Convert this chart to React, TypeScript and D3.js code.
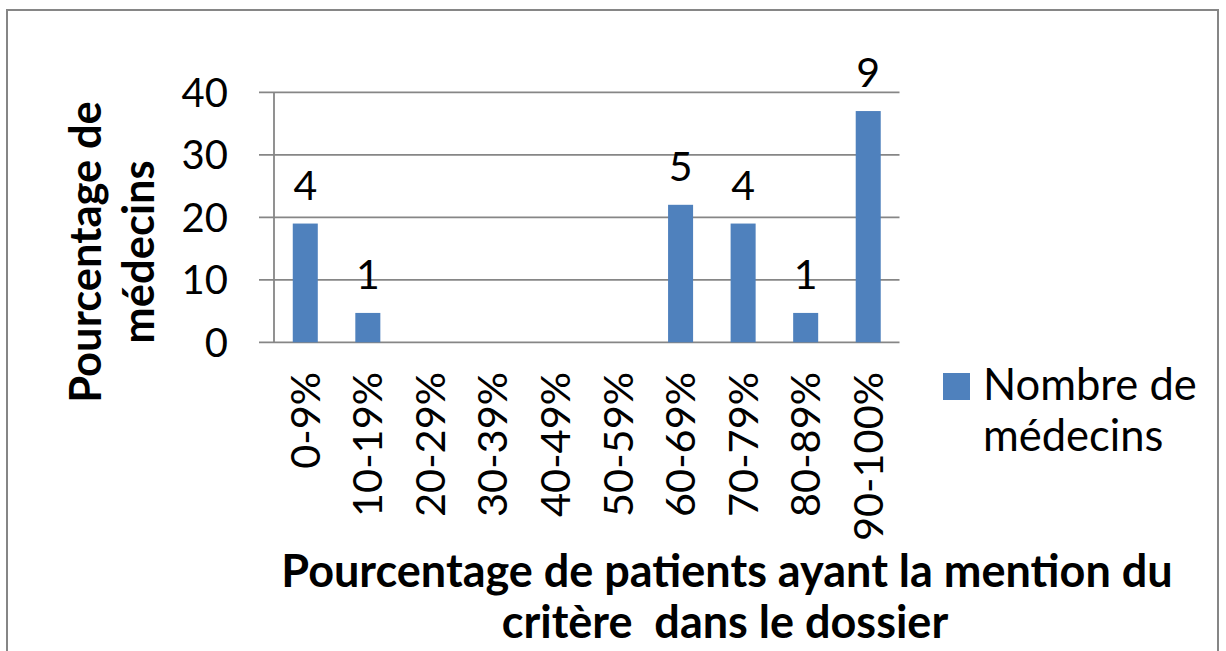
import React from "react";
import * as d3 from "d3";

const categories = ["0-9%", "10-19%", "20-29%", "30-39%", "40-49%", "50-59%", "60-69%", "70-79%", "80-89%", "90-100%"];
const percentValues = [19, 4.7, 0, 0, 0, 0, 22, 19, 4.7, 37];
const countLabels: (number | null)[] = [4, 1, null, null, null, null, 5, 4, 1, 9];
const yTicks = [0, 10, 20, 30, 40];
const seriesName = ["Nombre de", "médecins"];
const yTitle = ["Pourcentage de", "médecins"];
const xTitle = ["Pourcentage de patients ayant la mention du", "critère  dans le dossier"];

const W = 1226;
const H = 651;
const plotLeft = 274;
const plotRight = 899.5;
const plotTop = 92.3;
const plotBottom = 342.3;
const barColor = "#4F81BD";
const gridColor = "#868686";
const font = "Lato, 'Open Sans', sans-serif";

export default function App() {
  const x = d3.scaleBand<string>().domain(categories).range([plotLeft, plotRight]).paddingInner(0.6).paddingOuter(0.3);
  const y = d3.scaleLinear().domain([0, 40]).range([plotBottom, plotTop]);

  return (
    <svg width={W} height={H} style={{ position: "absolute", left: 0, top: 0, background: "#fff" }} fontFamily={font}>
      <rect x={0} y={0} width={W} height={H} fill="#fff" />
      <rect x={7} y={10} width={1211} height={700} fill="none" stroke={gridColor} strokeWidth={2} />

      {yTicks.map((t) => (
        <g key={t}>
          <line x1={259} x2={plotRight} y1={y(t)} y2={y(t)} stroke={gridColor} strokeWidth={1.8} />
          <text x={228} y={y(t)} dy="0.36em" textAnchor="end" fontSize={40} fill="#000">
            {t}
          </text>
        </g>
      ))}
      <line x1={plotLeft} x2={plotLeft} y1={plotTop} y2={plotBottom} stroke={gridColor} strokeWidth={1.8} />

      {categories.map((c, i) => {
        const v = percentValues[i];
        const bx = x(c)!;
        const bw = x.bandwidth();
        const lbl = countLabels[i];
        return (
          <g key={c}>
            {v > 0 && <rect x={bx} y={y(v)} width={bw} height={plotBottom - y(v)} fill={barColor} />}
            {lbl !== null && (
              <text x={bx + bw / 2} y={y(v) - 24} textAnchor="middle" fontSize={41} fill="#000">
                {lbl}
              </text>
            )}
            <text
              transform={`translate(${bx + bw / 2},372) rotate(-90)`}
              dy="0.35em"
              textAnchor="end"
              fontSize={41.5}
              fill="#000"
            >
              {c}
            </text>
          </g>
        );
      })}

      <text transform="translate(0,252) rotate(-90)" textAnchor="middle" fontSize={43.5} fontWeight="bold" fill="#000">
        <tspan x={0} y={101}>{yTitle[0]}</tspan>
        <tspan x={0} y={154}>{yTitle[1]}</tspan>
      </text>

      <text textAnchor="middle" fontSize={45} fontWeight="bold" fill="#000" style={{ whiteSpace: "pre" }}>
        <tspan x={727} y={587}>{xTitle[0]}</tspan>
        <tspan x={725} y={638}>{xTitle[1]}</tspan>
      </text>

      <rect x={943} y={373} width={27} height={27} fill={barColor} />
      <text fontSize={43.5} fill="#000">
        <tspan x={983} y={400}>{seriesName[0]}</tspan>
        <tspan x={983} y={451}>{seriesName[1]}</tspan>
      </text>
    </svg>
  );
}
